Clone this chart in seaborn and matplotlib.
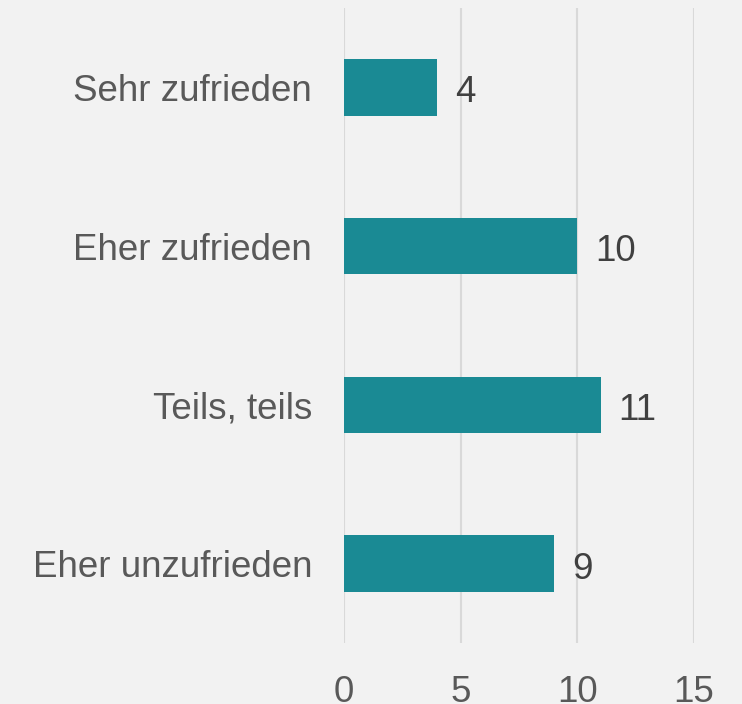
import pandas as pd
import seaborn as sns
import matplotlib.pyplot as plt

# Data
categories = ['Sehr zufrieden', 'Eher zufrieden', 'Teils, teils', 'Eher unzufrieden']
counts = [4, 10, 11, 9]
xticks = [0, 5, 10, 15]

df = pd.DataFrame({'category': categories, 'count': counts})

sns.set_style('white')
plt.rcParams['font.family'] = ['Liberation Sans', 'DejaVu Sans']

bg = '#f2f2f2'
fig = plt.figure(figsize=(7.42, 7.04), dpi=100, facecolor=bg)
ax = fig.add_axes([0.4636, 0.0866, 0.4717, 0.902])
ax.set_facecolor(bg)

sns.barplot(data=df, x='count', y='category', color='#1a8a94', saturation=1,
            width=0.355, linewidth=0, ax=ax, zorder=3)

ax.set_xlim(0, 15)
ax.set_ylim(3.5, -0.5)
ax.set_xticks(xticks)
ax.xaxis.grid(True, color='#d9d9d9', linewidth=1.5, zorder=0)
ax.set_axisbelow(True)
for s in ax.spines.values():
    s.set_visible(False)
ax.tick_params(axis='both', length=0, labelsize=26.5, labelcolor='#595959')
ax.tick_params(axis='x', pad=23)
ax.tick_params(axis='y', pad=23)
ax.set_xlabel('')
ax.set_ylabel('')

# value labels just right of each bar
for i, v in enumerate(counts):
    ax.annotate(str(v), xy=(v, i), xytext=(13, -4), textcoords='offset points',
                ha='left', va='center', fontsize=26.5, color='#404040')

fig.savefig('out.png', dpi=100, facecolor=bg)
